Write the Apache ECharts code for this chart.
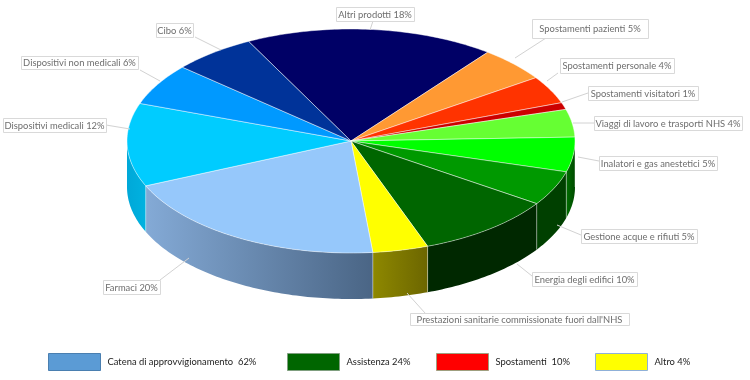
<!DOCTYPE html>
<html>
<head>
<meta charset="utf-8">
<script src="https://cdn.jsdelivr.net/npm/echarts@6/dist/echarts.min.js"></script>
<style>
  html, body { margin: 0; padding: 0; background: #fff; }
  #chart { width: 750px; height: 380px; }
</style>
</head>
<body>
<div id="chart"></div>
<script>
// clockwise from the Altri prodotti slice
const names = ['Altri prodotti', 'Spostamenti pazienti', 'Spostamenti personale', 'Spostamenti visitatori',
  'Viaggi di lavoro e trasporti NHS', 'Inalatori e gas anestetici', 'Gestione acque e rifiuti',
  'Energia degli edifici', "Prestazioni sanitarie commissionate fuori dall'NHS", 'Farmaci',
  'Dispositivi medicali', 'Dispositivi non medicali', 'Cibo'];
const values = [18, 5, 4, 1, 4, 5, 5, 10, 4, 20, 12, 6, 6];
const labels = ['Altri prodotti 18%', 'Spostamenti pazienti 5%', 'Spostamenti personale 4%', 'Spostamenti visitatori 1%',
  'Viaggi di lavoro e trasporti NHS 4%', 'Inalatori e gas anestetici 5%', 'Gestione acque e rifiuti 5%',
  'Energia degli edifici 10%', "Prestazioni sanitarie commissionate fuori dall'NHS", 'Farmaci 20%',
  'Dispositivi medicali 12%', 'Dispositivi non medicali 6%', 'Cibo 6%'];
const legendNames = ['Catena di approvvigionamento  62%', 'Assistenza 24%', 'Spostamenti  10%', 'Altro 4%'];

const topColors = ['#000066', '#ff9933', '#ff3300', '#cc0000', '#66ff33', '#00ff00', '#009900',
  '#006600', '#ffff00', '#96c8fb', '#00ccff', '#0099ff', '#003399'];
const sideLeft = ['#000033', '#804d1a', '#801a00', '#660000', '#338019', '#006e00', '#004000',
  '#002800', '#8e8800', '#84aad6', '#00a8d8', '#004d80', '#001a4d'];
const sideRight = ['#000033', '#804d1a', '#801a00', '#660000', '#338019', '#004a00', '#004000',
  '#002800', '#6c6600', '#4a6585', '#00b2e0', '#004d80', '#001a4d'];
const legendColors = ['#5b9bd5', '#006600', '#ff0000', '#ffff00'];
const legendBorders = ['#4a7fb0', '#7f9f7f', '#9f9f7f', '#8fb0d8'];
const legendLefts = [48, 287, 436, 595];

// pie geometry, pixels
const cx = 351, cy = 141, rx = 224, ry = 112, depth = 46;
const startDeg = -117.2;

// label box [x0, y0, x1, y1] and leader line [x0, y0, x1, y1]
const labelBoxes = [[336, 7, 414, 21], [532, 19, 648, 38], [560, 58, 674, 73], [588, 86, 698, 100],
  [594, 116, 742, 130], [599, 156, 717, 170], [581, 229, 697, 243], [532, 272, 637, 286],
  [410, 313, 629, 325], [103, 280, 160, 294], [3, 118, 106, 132], [21, 56, 138, 69], [156, 23, 193, 37]];
const leaders = [[373, 21, 370, 30], [546, 38, 515, 58], [558, 73, 547, 81], [588, 93, 562, 102],
  [594, 123, 573, 123], [599, 161, 578, 157], [581, 235, 557, 225], [532, 276, 517, 264],
  [425, 313, 407, 293], [160, 280, 189, 258], [106, 125, 130, 129], [140, 70, 160, 81], [195, 37, 221, 50]];

const total = values.reduce((a, b) => a + b, 0);

function sliceRange(i) {
  let sum = 0;
  for (let k = 0; k < i; k++) sum += values[k];
  return [startDeg + sum / total * 360, startDeg + (sum + values[i]) / total * 360];
}
function rim(deg, dy) {
  const t = deg * Math.PI / 180;
  return [cx + rx * Math.cos(t), cy + ry * Math.sin(t) + (dy || 0)];
}
function arcPoints(a, b, dy) {
  const pts = [];
  const n = Math.max(2, Math.ceil(Math.abs(b - a)));
  for (let k = 0; k <= n; k++) pts.push(rim(a + (b - a) * k / n, dy));
  return pts;
}

function renderTop(params, api) {
  const r = sliceRange(params.dataIndex);
  return {
    type: 'polygon',
    shape: { points: [[cx, cy]].concat(arcPoints(r[0], r[1])) },
    style: { fill: topColors[params.dataIndex], stroke: 'rgba(255,255,255,0.45)', lineWidth: 1 }
  };
}

// only the front half of the wall (0..180 deg, also after a full turn) can be seen
function renderSide(params, api) {
  const i = params.dataIndex;
  const r = sliceRange(i);
  const kids = [];
  [0, -360].forEach(function (shift) {
    const a = Math.max(r[0] + shift, 0), b = Math.min(r[1] + shift, 180);
    if (b <= a) return;
    const pts = arcPoints(a, b).concat(arcPoints(b, a, depth));
    const xs = pts.map(p => p[0]);
    const x0 = Math.min.apply(null, xs), x1 = Math.max.apply(null, xs);
    kids.push({
      type: 'polygon',
      shape: { points: pts },
      style: {
        fill: new echarts.graphic.LinearGradient(x0, 0, x1, 0, [
          { offset: 0, color: sideLeft[i] }, { offset: 1, color: sideRight[i] }
        ], true)
      }
    });
    // light seam at the wall edge that meets the next slice
    const edge = rim(a);
    kids.push({
      type: 'line',
      shape: { x1: edge[0], y1: edge[1], x2: edge[0], y2: edge[1] + depth },
      style: { stroke: 'rgba(255,255,255,0.4)', lineWidth: 1 }
    });
  });
  return { type: 'group', children: kids };
}

function renderLabel(params, api) {
  const i = params.dataIndex;
  const b = labelBoxes[i], l = leaders[i];
  return {
    type: 'group',
    children: [
      {
        type: 'line',
        shape: { x1: l[0], y1: l[1], x2: l[2], y2: l[3] },
        style: { stroke: '#d2d2d2', lineWidth: 1 }
      },
      {
        type: 'rect',
        shape: { x: b[0] + 0.5, y: b[1] + 0.5, width: b[2] - b[0], height: b[3] - b[1] },
        style: { fill: '#fff', stroke: '#d9d9d9', lineWidth: 1 }
      },
      {
        type: 'text',
        style: {
          x: (b[0] + b[2]) / 2, y: (b[1] + b[3]) / 2 + 0.5,
          text: labels[i], align: 'center', verticalAlign: 'middle',
          fill: '#6e6e6e', font: '9.4px Lato'
        }
      }
    ]
  };
}

const rows = values.map((v, i) => ({ name: names[i], value: v }));

const chart = echarts.init(document.getElementById('chart'), null, { renderer: 'canvas' });
chart.setOption({
  animation: false,
  backgroundColor: '#fff',
  tooltip: { show: false },
  legend: legendNames.map((name, i) => ({
    left: legendLefts[i],
    top: 353,
    padding: 0,
    itemWidth: 52,
    itemHeight: 17,
    selectedMode: false,
    textStyle: { color: '#222', fontFamily: 'Lato', fontSize: 9.4, padding: [0, 0, 0, 2] },
    data: [{ name: name, icon: 'rect', itemStyle: { color: legendColors[i], borderColor: legendBorders[i], borderWidth: 1 } }]
  })),
  series: [
    { type: 'custom', name: 'pareti', coordinateSystem: 'none', z: 1, silent: true, data: rows, renderItem: renderSide },
    { type: 'custom', name: 'fette', coordinateSystem: 'none', z: 2, silent: true, data: rows, renderItem: renderTop },
    { type: 'custom', name: 'etichette', coordinateSystem: 'none', z: 3, silent: true, data: rows, renderItem: renderLabel }
  ].concat(legendNames.map((name, i) => ({
    type: 'custom', name: name, coordinateSystem: 'none', data: [],
    itemStyle: { color: legendColors[i] }, renderItem: function () { return null; }
  })))
});
</script>
</body>
</html>
